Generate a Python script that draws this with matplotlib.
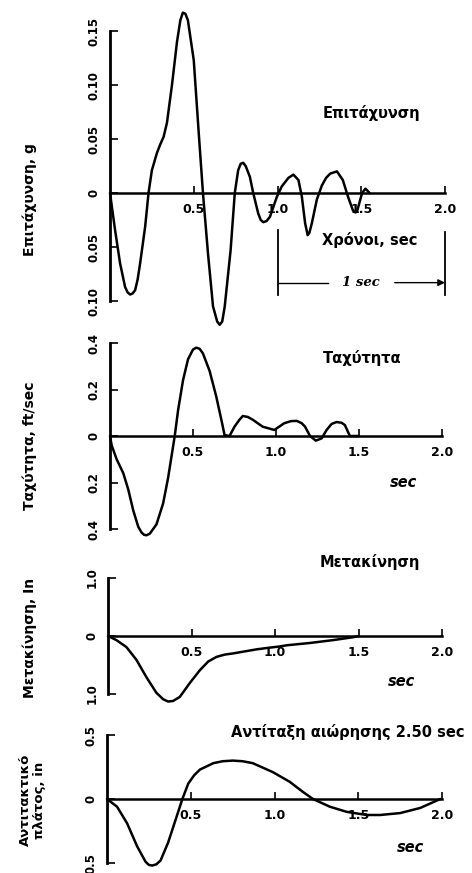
import numpy as np
import matplotlib
matplotlib.use("Agg")
import matplotlib.pyplot as plt

plt.rcParams['font.family'] = ['DejaVu Sans']
plt.rcParams['font.weight'] = 'bold'

W, H = 472, 873

# --- acceleration record (g) ---
acc_t = [0, 0.015, 0.03, 0.06, 0.09, 0.105, 0.12, 0.135, 0.15, 0.165, 0.18,
         0.21, 0.23, 0.25, 0.28, 0.30, 0.32, 0.34, 0.37, 0.40, 0.42, 0.435,
         0.45, 0.465, 0.50, 0.53, 0.555, 0.585, 0.615, 0.64, 0.655, 0.67,
         0.685, 0.72, 0.745, 0.765, 0.78, 0.795, 0.81, 0.835, 0.855, 0.885,
         0.90, 0.915, 0.935, 0.955, 0.995, 1.025, 1.065, 1.095, 1.125, 1.145,
         1.165, 1.18, 1.19, 1.205, 1.235, 1.265, 1.29, 1.315, 1.355, 1.39,
         1.42, 1.45, 1.465, 1.475, 1.505, 1.525, 1.55]
acc_g = [0, -0.017, -0.034, -0.065, -0.087, -0.092, -0.094, -0.093, -0.090,
         -0.080, -0.065, -0.031, 0, 0.021, 0.037, 0.045, 0.052, 0.065, 0.10,
         0.14, 0.160, 0.167, 0.166, 0.16, 0.123, 0.055, 0, -0.056, -0.105,
         -0.119, -0.122, -0.119, -0.105, -0.053, 0, 0.021, 0.027, 0.028, 0.025,
         0.015, 0, -0.019, -0.025, -0.027, -0.026, -0.022, -0.004, 0.006,
         0.014, 0.017, 0.012, -0.003, -0.028, -0.039, -0.037, -0.028, -0.006,
         0.007, 0.014, 0.018, 0.020, 0.012, -0.003, -0.016, -0.018, -0.017,
         0, 0.004, 0]

# --- velocity (ft/sec) ---
vel_t = [0, 0.01, 0.04, 0.08, 0.11, 0.14, 0.17, 0.19, 0.205, 0.22, 0.24, 0.28,
         0.32, 0.35, 0.37, 0.39, 0.41, 0.44, 0.47, 0.50, 0.52, 0.54, 0.56,
         0.60, 0.64, 0.675, 0.69, 0.72, 0.75, 0.78, 0.80, 0.83, 0.86, 0.92,
         0.99, 1.05, 1.09, 1.125, 1.155, 1.175, 1.205, 1.24, 1.275, 1.305,
         1.335, 1.365, 1.395, 1.415, 1.445, 1.5]
vel_v = [0, -0.04, -0.10, -0.16, -0.23, -0.32, -0.39, -0.415, -0.425, -0.427,
         -0.42, -0.38, -0.29, -0.18, -0.09, 0, 0.11, 0.24, 0.33, 0.372, 0.38,
         0.375, 0.355, 0.28, 0.17, 0.056, 0.004, 0, 0.04, 0.07, 0.086, 0.082,
         0.07, 0.04, 0.026, 0.055, 0.064, 0.065, 0.055, 0.04, 0, -0.02, -0.01,
         0.026, 0.052, 0.06, 0.057, 0.047, 0, 0]

# --- displacement (in) ---
dis_t = [0, 0.05, 0.11, 0.17, 0.23, 0.29, 0.33, 0.36, 0.39, 0.43, 0.49, 0.55,
         0.60, 0.65, 0.70, 0.75, 0.89, 0.97, 1.03, 1.07, 1.21, 1.35, 1.47, 1.50]
dis_d = [0, -0.07, -0.19, -0.41, -0.71, -0.98, -1.09, -1.13, -1.12, -1.05,
         -0.81, -0.59, -0.44, -0.36, -0.32, -0.30, -0.23, -0.20, -0.18, -0.16,
         -0.12, -0.07, -0.02, 0]

# --- response of 2.50 sec pendulum (in) ---
res_t = [0, 0.06, 0.12, 0.18, 0.23, 0.25, 0.27, 0.295, 0.32, 0.365, 0.41,
         0.45, 0.485, 0.52, 0.555, 0.635, 0.69, 0.75, 0.81, 0.87, 0.99, 1.09,
         1.17, 1.23, 1.33, 1.43, 1.55, 1.63, 1.75, 1.87, 1.99]
res_a = [0, -0.06, -0.19, -0.37, -0.49, -0.515, -0.52, -0.51, -0.48, -0.34,
         -0.16, 0, 0.12, 0.185, 0.23, 0.28, 0.295, 0.30, 0.295, 0.28, 0.21,
         0.135, 0.055, 0, -0.06, -0.10, -0.125, -0.125, -0.11, -0.07, 0]

x_ticks = [0.5, 1.0, 1.5, 2.0]
x_labels = ['0.5', '1.0', '1.5', '2.0']


def make_axes(fig, x0, sx, y0, sy, xlim, ylim):
    # x0/y0: pixel of the origin, sx/sy: pixels per unit
    left = x0 + xlim[0] * sx
    right = x0 + xlim[1] * sx
    top = y0 - ylim[1] * sy
    bottom = y0 - ylim[0] * sy
    ax = fig.add_axes([left / W, 1 - bottom / H, (right - left) / W, (bottom - top) / H])
    ax.set_xlim(*xlim)
    ax.set_ylim(*ylim)
    ax.patch.set_visible(False)
    return ax


def style(ax, yticks, ylabels, ylo, yhi):
    ax.spines['top'].set_visible(False)
    ax.spines['right'].set_visible(False)
    ax.spines['left'].set_position(('data', 0))
    ax.spines['left'].set_bounds(ylo, yhi)
    ax.spines['left'].set_linewidth(2.0)
    ax.spines['bottom'].set_position(('data', 0))
    ax.spines['bottom'].set_bounds(0, 2.0)
    ax.spines['bottom'].set_linewidth(1.8)
    ax.set_xticks(x_ticks)
    ax.set_xticklabels(x_labels, fontsize=9)
    ax.set_yticks(yticks)
    ax.set_yticklabels(ylabels, rotation=90, va='center', fontsize=8.5)
    ax.tick_params(axis='x', direction='in', length=5, width=1.2, pad=7)
    ax.tick_params(axis='y', direction='in', length=6, width=1.2, pad=7)


fig = plt.figure(figsize=(W / 100, H / 100), dpi=100)
line_kw = dict(color='black', lw=1.8, solid_joinstyle='round',
               solid_capstyle='round', clip_on=False)
hdr = 10.5

# acceleration
ax1 = make_axes(fig, 110, 167.5, 193, 1080, (-0.05, 2.2), (-0.13, 0.175))
ax1.plot(acc_t, acc_g, **line_kw)
style(ax1, [0.15, 0.10, 0.05, 0, -0.05, -0.10],
      ['0.15', '0.10', '0.05', '0', '0.05', '0.10'], -0.10, 0.15)
ax1.text(1.56, 0.074, 'Επιτάχυνση', ha='center', va='center', fontsize=hdr)
ax1.text(1.55, -0.0435, 'Χρόνοι, sec', ha='center', va='center', fontsize=hdr)
ax1.plot([1.0, 1.0], [-0.034, -0.094], color='black', lw=1.3)
ax1.plot([2.0, 2.0], [-0.036, -0.094], color='black', lw=1.3)
ax1.plot([1.0, 1.3], [-0.083, -0.083], color='black', lw=1.0)
ax1.text(1.5, -0.083, '1 sec', ha='center', va='center', fontsize=9.5,
         style='italic', family=['DejaVu Serif'])
ax1.annotate('', xy=(2.0, -0.083), xytext=(1.7, -0.083),
             arrowprops=dict(arrowstyle='-|>', color='black', lw=1.0,
                             mutation_scale=10, shrinkA=0, shrinkB=0))
fig.text(30 / W, 1 - 200 / H, 'Επιτάχυνση, g', rotation=90, ha='center',
         va='center', fontsize=10)

# velocity
ax2 = make_axes(fig, 110, 166, 436, 232.5, (-0.05, 2.2), (-0.46, 0.45))
ax2.plot(vel_t, vel_v, **line_kw)
style(ax2, [0.4, 0.2, 0, -0.2, -0.4], ['0.4', '0.2', '0', '0.2', '0.4'], -0.4, 0.4)
ax2.text(1.52, 0.335, 'Ταχύτητα', ha='center', va='center', fontsize=hdr)
ax2.text(1.77, -0.20, 'sec', ha='center', va='center', fontsize=hdr, style='italic')
fig.text(30 / W, 1 - 446 / H, 'Ταχύτητα, ft/sec', rotation=90, ha='center',
         va='center', fontsize=10)

# displacement
ax3 = make_axes(fig, 108, 167, 636, 58, (-0.05, 2.2), (-1.2, 1.45))
ax3.plot(dis_t, dis_d, **line_kw)
style(ax3, [1.0, 0, -1.0], ['1.0', '0', '1.0'], -1.0, 1.0)
ax3.text(1.57, 1.28, 'Μετακίνηση', ha='center', va='center', fontsize=hdr)
ax3.text(1.76, -0.79, 'sec', ha='center', va='center', fontsize=hdr, style='italic')
fig.text(30 / W, 1 - 638 / H, 'Μετακίνηση, In', rotation=90, ha='center',
         va='center', fontsize=10)

# pendulum response
ax4 = make_axes(fig, 107, 167.5, 799, 128, (-0.05, 2.2), (-0.56, 0.6))
ax4.plot(res_t, res_a, **line_kw)
style(ax4, [0.5, 0, -0.5], ['0.5', '0', '0.5'], -0.5, 0.5)
ax4.text(1.44, 0.52, 'Αντίταξη αιώρησης 2.50 sec', ha='center', va='center',
         fontsize=hdr)
ax4.text(1.81, -0.375, 'sec', ha='center', va='center', fontsize=hdr, style='italic')
fig.text(32 / W, 1 - 800 / H, 'Αντιτακτικό\nπλάτος, in', rotation=90,
         ha='center', va='center', fontsize=9.5, linespacing=1.1)

fig.savefig('out.png', dpi=100)
